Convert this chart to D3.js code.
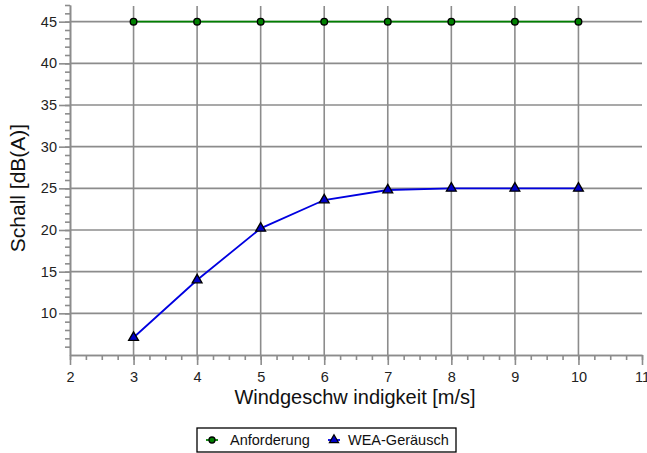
<!DOCTYPE html>
<html>
<head>
<meta charset="utf-8">
<script src="https://cdn.jsdelivr.net/npm/d3@7"></script>
<style>
  body { margin: 0; background: #fff; }
  svg { font-family: Arial, "Liberation Sans", sans-serif; }
</style>
</head>
<body>
<div id="chart"></div>
<script>
// data
var windSpeed = [3, 4, 5, 6, 7, 8, 9, 10];
var anforderung = [45, 45, 45, 45, 45, 45, 45, 45];
var weaGeraeusch = [7.1, 14.0, 20.2, 23.6, 24.8, 25.0, 25.0, 25.0];
var xTicks = [2, 3, 4, 5, 6, 7, 8, 9, 10, 11];
var yTicks = [10, 15, 20, 25, 30, 35, 40, 45];
var seriesNames = ['Anforderung', 'WEA-Geräusch'];

var W = 647, H = 453;
var plotLeft = 70, plotRight = 642, plotTop = 5, plotBottom = 355;

var svg = d3.select('#chart').append('svg')
  .attr('width', W)
  .attr('height', H);

var x = d3.scaleLinear().domain([2, 11]).range([plotLeft, plotRight]);
var y = d3.scaleLinear().domain([5, 47]).range([plotBottom, plotTop]);

var GRID = '#8c8c8c';

// grid
var grid = svg.append('g');
grid.selectAll('line.h')
  .data(yTicks)
  .enter().append('line')
  .attr('class', 'h')
  .attr('x1', plotLeft).attr('x2', plotRight)
  .attr('y1', function(d) { return y(d); })
  .attr('y2', function(d) { return y(d); })
  .style('stroke', GRID).style('stroke-width', 1.6);
grid.selectAll('line.v')
  .data(xTicks.slice(1, -1))
  .enter().append('line')
  .attr('class', 'v')
  .attr('y1', plotTop + 1).attr('y2', plotBottom)
  .attr('x1', function(d) { return x(d); })
  .attr('x2', function(d) { return x(d); })
  .style('stroke', GRID).style('stroke-width', 1.6);

// axes
var xMinor = d3.range(2, 11.001, 0.25);
var yMinor = d3.range(6, 47.001, 1);

var xAxis = svg.append('g').attr('transform', 'translate(0,' + plotBottom + ')');
xAxis.call(d3.axisBottom(x).tickValues(xMinor).tickSize(5).tickSizeOuter(0).tickFormat(''));
xAxis.append('g')
  .call(d3.axisBottom(x).tickValues(xTicks).tickSize(10).tickSizeOuter(0).tickPadding(7).tickFormat(d3.format('d')));

var yAxis = svg.append('g').attr('transform', 'translate(' + plotLeft + ',0)');
yAxis.call(d3.axisLeft(y).tickValues(yMinor).tickSize(5).tickSizeOuter(0).tickFormat(''));
yAxis.append('g')
  .call(d3.axisLeft(y).tickValues(yTicks).tickSize(11).tickSizeOuter(0).tickPadding(2).tickFormat(d3.format('d')));

svg.selectAll('.domain').style('stroke', GRID).style('stroke-width', 1.6);
svg.selectAll('.tick line').style('stroke', GRID).style('stroke-width', 1.6);
svg.selectAll('g').attr('font-size', null).attr('font-family', null);
svg.selectAll('.tick text')
  .style('font-size', '14.5px')
  .style('fill', '#222');

// axis titles
svg.append('text')
  .attr('x', 355)
  .attr('y', 404)
  .attr('text-anchor', 'middle')
  .style('font-size', '20px')
  .style('fill', '#111')
  .text('Windgeschw indigkeit [m/s]');

svg.append('text')
  .attr('transform', 'translate(25,188) rotate(-90)')
  .attr('text-anchor', 'middle')
  .style('font-size', '21px')
  .style('fill', '#111')
  .text('Schall [dB(A)]');

// series
var line = d3.line()
  .x(function(d) { return x(d[0]); })
  .y(function(d) { return y(d[1]); });

var greenData = d3.zip(windSpeed, anforderung);
var blueData = d3.zip(windSpeed, weaGeraeusch);

svg.append('path')
  .datum(greenData)
  .attr('d', line)
  .style('fill', 'none').style('stroke', '#008000').style('stroke-width', 1.8);

svg.append('path')
  .datum(blueData)
  .attr('d', line)
  .style('fill', 'none').style('stroke', '#0000e0').style('stroke-width', 1.8);

svg.selectAll('circle.pt')
  .data(greenData)
  .enter().append('circle')
  .attr('class', 'pt')
  .attr('cx', function(d) { return x(d[0]); })
  .attr('cy', function(d) { return y(d[1]); })
  .attr('r', 3.3)
  .style('fill', '#008000').style('stroke', '#000').style('stroke-width', 1.4);

var tri = d3.symbol().type(d3.symbolTriangle).size(42);
svg.selectAll('path.tri')
  .data(blueData)
  .enter().append('path')
  .attr('class', 'tri')
  .attr('d', tri)
  .attr('transform', function(d) { return 'translate(' + x(d[0]) + ',' + y(d[1]) + ')'; })
  .style('fill', '#0000c8').style('stroke', '#000').style('stroke-width', 1.3);

// legend
var legend = svg.append('g').attr('transform', 'translate(197,428)');
legend.append('rect')
  .attr('width', 259).attr('height', 24)
  .style('fill', '#fff').style('stroke', '#000').style('stroke-width', 1.3);

var lg1 = legend.append('g').attr('transform', 'translate(15,12)');
lg1.append('line').attr('x1', -6).attr('x2', 6)
  .style('stroke', '#008000').style('stroke-width', 1.8);
lg1.append('circle').attr('r', 3)
  .style('fill', '#008000').style('stroke', '#000').style('stroke-width', 1.3);
lg1.append('text').attr('x', 18).attr('y', 5)
  .style('font-size', '14.5px').style('fill', '#111')
  .text(seriesNames[0]);

var lg2 = legend.append('g').attr('transform', 'translate(137,12)');
lg2.append('line').attr('x1', -6).attr('x2', 6)
  .style('stroke', '#0000e0').style('stroke-width', 1.8);
lg2.append('path').attr('d', d3.symbol().type(d3.symbolTriangle).size(36))
  .style('fill', '#0000c8').style('stroke', '#000').style('stroke-width', 1.2);
lg2.append('text').attr('x', 14).attr('y', 5)
  .style('font-size', '14.5px').style('fill', '#111')
  .text(seriesNames[1]);
</script>
</body>
</html>
